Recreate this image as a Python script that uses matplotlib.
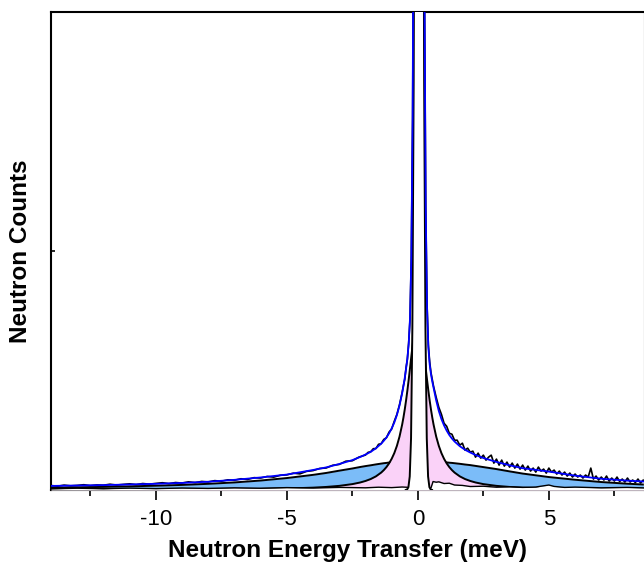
import matplotlib
matplotlib.use('agg')
from matplotlib import pyplot as plt
from matplotlib.ticker import FixedLocator

plt.rcParams['font.family'] = ['Liberation Sans', 'DejaVu Sans']
plt.rcParams['axes.unicode_minus'] = False

# measured spectrum (arbitrary count scale)
energy = [-14.0, -13.75, -13.5, -13.25, -13.0, -12.75, -12.5, -12.25, -12.0, -11.75, -11.5, -11.25,
          -11.0, -10.75, -10.5, -10.25, -10.0, -9.75, -9.5, -9.25, -9.0, -8.75, -8.5, -8.25,
          -8.0, -7.75, -7.5, -7.25, -7.0, -6.75, -6.5, -6.25, -6.0, -5.75, -5.5, -5.25,
          -5.0, -4.75, -4.5, -4.25, -4.0, -3.75, -3.5, -3.25, -3.0, -2.75, -2.5, -2.25,
          -2.0, -1.9, -1.8, -1.7, -1.6, -1.5, -1.4, -1.3, -1.2, -1.1, -1.0, -0.9, -0.8, -0.7, -0.6,
          -0.55, -0.5, -0.45, -0.4, -0.35, -0.3, -0.25, -0.2, -0.15, -0.1, -0.05, 0.0,
          0.05, 0.1, 0.15, 0.2, 0.25, 0.3, 0.35, 0.4, 0.45, 0.5, 0.55,
          0.6, 0.7, 0.8, 0.9, 1.0, 1.1, 1.2, 1.3, 1.4, 1.5, 1.6, 1.7, 1.8, 1.9, 2.0,
          2.1, 2.2, 2.3, 2.4, 2.5, 2.6, 2.7, 2.8, 2.9, 3.0, 3.1, 3.2, 3.3, 3.4, 3.5, 3.6,
          3.7, 3.8, 3.9, 4.0, 4.1, 4.2, 4.3, 4.4, 4.5, 4.6, 4.7, 4.8, 4.9, 5.0, 5.1, 5.2,
          5.3, 5.4, 5.5, 5.6, 5.7, 5.8, 5.9, 6.0, 6.1, 6.2, 6.3, 6.4, 6.5, 6.6, 6.7, 6.8,
          6.9, 7.0, 7.1, 7.2, 7.3, 7.4, 7.5, 7.6, 7.7, 7.8, 7.9, 8.0, 8.1, 8.2, 8.3, 8.4,
          8.5, 8.6, 8.7, 8.8]
counts = [4.5, 3.8, 4.9, 4.2, 4.6, 5.3, 4.4, 5.1, 4.8, 5.8, 5.0, 5.6,
          6.2, 5.4, 6.5, 5.9, 6.6, 7.3, 6.4, 7.5, 7.0, 8.2, 7.4, 8.6,
          8.1, 9.4, 8.8, 10.2, 9.8, 11.3, 10.6, 12.4, 12.0, 13.6, 12.9, 14.8,
          15.2, 16.9, 16.2, 18.7, 19.5, 21.6, 22.1, 24.8, 25.7, 28.9, 29.4, 33.0,
          35.1, 37.8, 38.4, 41.5, 41.6, 45.9, 46.5, 50.8, 52.4, 58.1, 61.2, 69.0, 75.9, 85.7, 97.8,
          105, 111, 123, 131, 148, 171, 234, 372, 672, 1150, 1730, 2210,
          2340, 2040, 1490, 918, 516, 284, 187, 146, 129, 118, 111,
          104, 93, 83, 76, 67, 64, 57, 56, 50, 50, 45, 47, 40, 42, 38,
          39, 33, 37, 32, 35, 30, 33, 35, 27, 31, 25, 30, 24, 28, 23, 27,
          22, 26, 21, 25, 20, 24, 19, 22, 18, 23, 19, 21, 17, 22, 18, 20,
          16, 19, 15, 18, 14, 17, 13, 16, 13, 15, 12, 15, 13, 22, 11, 14,
          10, 13, 10, 14, 9, 12, 9, 13, 8.5, 11, 8, 12, 8, 10, 7.5, 11,
          7, 10, 7.5, 10]

# fitted model on its own grid
fit_energy = [-14, -12, -10, -9, -8, -7, -6, -5, -4, -3.5, -3, -2.5, -2.2, -2, -1.8, -1.6,
              -1.4, -1.3, -1.2, -1.1, -1.0, -0.9, -0.8, -0.7, -0.6, -0.55, -0.5, -0.45,
              -0.4, -0.35, -0.3, -0.25, -0.2, -0.15, -0.1, -0.05, 0, 0.05, 0.1, 0.15,
              0.2, 0.25, 0.3, 0.35, 0.4, 0.45, 0.5, 0.55, 0.6, 0.7, 0.8, 0.9, 1.0, 1.1,
              1.2, 1.3, 1.4, 1.6, 1.8, 2, 2.2, 2.5, 3, 3.5, 4, 5, 6, 7, 8, 9]
fit_total = [4.1, 4.9, 6.2, 7.1, 8.3, 10.2, 12.6, 15.5, 20.1, 22.7, 26.1, 30.0, 33.2, 35.6, 38.3, 41.9,
             46.5, 49.4, 52.7, 56.8, 61.8, 67.7, 75.3, 84.9, 97.1, 104.4, 112.6, 121.8,
             132.4, 146.6, 172.1, 232.3, 375.4, 668.9, 1148, 1733, 2207, 2337, 2041, 1486,
             921, 513, 286, 183.5, 143.4, 126.4, 116.4, 108.9, 102.6, 89.9, 79.3, 71.2, 64.8, 59.6,
             55.2, 51.7, 48.7, 44.0, 40.4, 37.6, 35.2, 32.1, 28.2, 24.8, 21.9, 18.5, 14.4, 11.3, 9.4, 8.0]
# narrow quasielastic component (pink)
narrow = [0.19, 0.27, 0.38, 0.47, 0.60, 0.78, 1.06, 1.52, 2.36, 3.07, 4.15, 5.91, 7.55, 9.06, 11.0, 13.7,
          17.5, 20.0, 23.0, 26.7, 31.3, 37.0, 44.3, 53.6, 65.6, 72.8, 80.9, 89.9,
          99.9, 110.7, 122.2, 134.0, 145.4, 155.8, 164.1, 169.6, 171.5, 169.6, 164.1, 155.8,
          145.4, 134.0, 122.2, 110.7, 99.9, 89.9, 80.9, 72.8, 65.6, 53.6, 44.3, 37.0, 31.3, 26.7,
          23.0, 20.0, 17.5, 13.7, 11.0, 9.06, 7.55, 5.91, 4.15, 3.07, 2.36, 1.52, 1.06, 0.78, 0.60, 0.47]
# broad quasielastic component (blue)
broad = [2.4, 3.1, 4.3, 5.1, 6.2, 7.6, 9.5, 12.0, 15.2, 17.1, 19.4, 21.6, 23.1, 24.0, 24.8, 25.7,
         26.5, 26.9, 27.2, 27.6, 28.0, 28.2, 28.5, 28.8, 29.0, 29.1, 29.2, 29.4,
         29.4, 29.5, 29.5, 29.6, 29.6, 29.6, 29.6, 29.6, 29.6, 29.6, 29.6, 29.6,
         29.6, 29.6, 29.5, 29.5, 29.4, 29.4, 29.2, 29.1, 29.0, 28.8, 28.5, 28.2, 28.0, 27.7,
         27.4, 27.2, 26.9, 26.3, 25.6, 25.0, 24.2, 23.0, 21.0, 18.7, 16.5, 13.0, 10.3, 8.0, 6.3, 5.0]

# elastic line
elastic_energy = [-0.46, -0.41, -0.36, -0.31, -0.26, -0.21, -0.16, -0.11, -0.06, -0.01, 0.04,
                  0.09, 0.14, 0.19, 0.24, 0.29, 0.34, 0.39, 0.44, 0.49, 0.54]
elastic = [0.1, 0.5, 2.9, 13.6, 52, 162, 410, 845, 1416, 1930, 2140,
           1930, 1416, 845, 410, 162, 52, 13.6, 2.9, 0.5, 0.1]

# background
bkg_energy = [-14, -13, -12, -11, -10, -9, -8, -7, -6, -5, -4, -3, -2, -1.5, -1, -0.6, -0.3, 0,
              0.3, 0.5, 0.58, 0.7, 0.8, 1.0, 1.2, 1.4, 1.7, 2.0, 2.5, 3, 3.5, 4, 4.5, 4.8,
              5.0, 5.2, 5.6, 6, 7, 8, 8.8]
bkg = [1.2, 1.8, 1.3, 1.9, 1.4, 2.0, 1.6, 2.2, 1.8, 2.4, 2.0, 2.6, 2.2, 2.8, 2.4, 3.0, 2.6, 3.0,
       2.5, 2.0, 8.5, 7.8, 8.2, 6.5, 6.8, 5.0, 4.6, 3.5, 3.8, 2.8, 3.2, 2.6, 3.0, 4.2,
       5.0, 3.6, 2.6, 2.9, 2.2, 2.6, 2.0]

xmajor = [-10, -5, 0, 5]
xminor = [-12.5, -7.5, -2.5, 2.5, 7.5]

fig = plt.figure(figsize=(6.44, 5.70), dpi=100)
ax = fig.add_axes([51 / 644, 80 / 570, 593 / 644, 478 / 570])

ax.fill_between(fit_energy, 0, broad, color='#7bbcf8', lw=0, zorder=1)
ax.plot(fit_energy, broad, color='black', lw=1.4, zorder=2)
ax.fill_between(fit_energy, 0, narrow, color='#fad2f8', lw=0, zorder=3)
ax.plot(fit_energy, narrow, color='black', lw=1.4, zorder=4)
ax.fill_between(bkg_energy, 0, bkg, color='white', lw=0, zorder=5)
ax.plot(bkg_energy, bkg, color='black', lw=1.0, zorder=6)
ax.fill_between(elastic_energy, 0, elastic, color='white', lw=0, zorder=7)
ax.plot(elastic_energy, elastic, color='black', lw=1.4, zorder=8)
ax.plot(energy, counts, color='black', lw=1.2, zorder=9)
ax.plot(fit_energy, fit_total, color='#0000ff', lw=1.3, zorder=10)

ax.set_xlim(-14, 8.63)
ax.set_ylim(0, 480)

ax.xaxis.set_major_locator(FixedLocator(xmajor))
ax.xaxis.set_minor_locator(FixedLocator(xminor))
ax.set_xticklabels([str(v) for v in xmajor])
ax.tick_params(axis='x', which='major', direction='out', length=7, width=1.2, labelsize=16, pad=7)
ax.tick_params(axis='x', which='minor', direction='out', length=4, width=1.2)
ax.set_yticks([240])
ax.set_yticklabels([])
ax.tick_params(axis='y', direction='in', length=3, width=1.2)

for side in ['left', 'top', 'bottom']:
    ax.spines[side].set_linewidth(1.5)
ax.spines['right'].set_color('#c8c8c8')
ax.spines['right'].set_linewidth(1.0)

ax.set_xlabel('Neutron Energy Transfer (meV)', fontsize=17.5, fontweight='bold', labelpad=6)
ax.set_ylabel('Neutron Counts', fontsize=17.5, fontweight='bold', labelpad=10)

plt.savefig('out.png', dpi=100)
